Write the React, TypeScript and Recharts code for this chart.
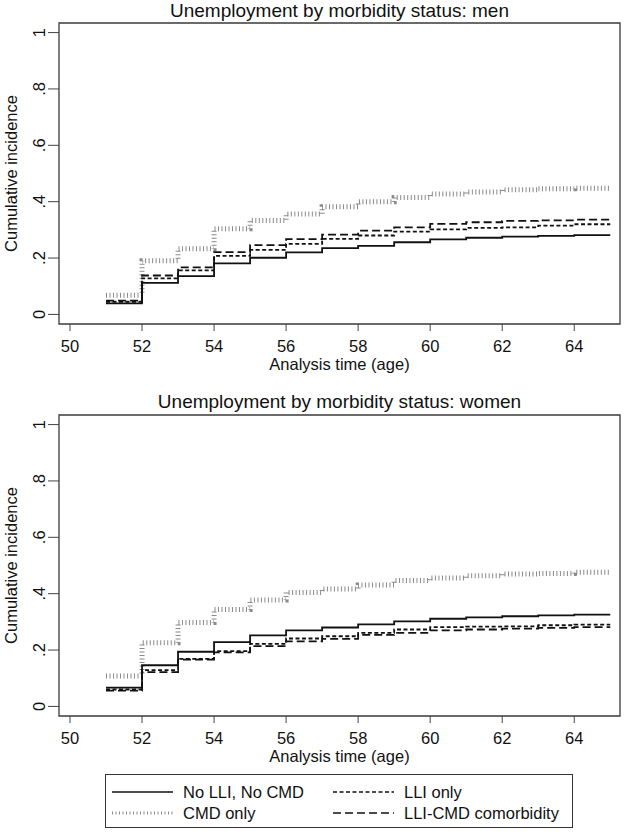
import React from 'react';
import { LineChart, Line, XAxis, YAxis, ReferenceArea } from 'recharts';

// Ages at which the step functions change (last one = end of follow-up)
const ages = [51, 52, 53, 54, 55, 56, 57, 58, 59, 60, 61, 62, 63, 64, 65];

// Men
const menNone = [0.039, 0.112, 0.136, 0.181, 0.201, 0.220, 0.235, 0.243, 0.256, 0.266, 0.272, 0.276, 0.279, 0.281, 0.281];
const menLLI = [0.045, 0.128, 0.156, 0.208, 0.229, 0.250, 0.268, 0.280, 0.294, 0.302, 0.307, 0.309, 0.315, 0.320, 0.320];
const menCMD = [0.068, 0.190, 0.233, 0.304, 0.333, 0.356, 0.382, 0.400, 0.415, 0.427, 0.434, 0.442, 0.446, 0.448, 0.448];
const menBoth = [0.049, 0.138, 0.167, 0.221, 0.246, 0.267, 0.283, 0.297, 0.309, 0.321, 0.327, 0.332, 0.334, 0.336, 0.336];

// Women
const womenNone = [0.067, 0.146, 0.194, 0.228, 0.252, 0.270, 0.280, 0.291, 0.302, 0.311, 0.316, 0.320, 0.323, 0.326, 0.326];
const womenLLI = [0.060, 0.129, 0.169, 0.196, 0.222, 0.241, 0.249, 0.261, 0.273, 0.281, 0.283, 0.284, 0.288, 0.290, 0.290];
const womenCMD = [0.108, 0.226, 0.298, 0.344, 0.378, 0.404, 0.417, 0.431, 0.447, 0.456, 0.464, 0.470, 0.472, 0.476, 0.476];
const womenBoth = [0.056, 0.122, 0.166, 0.192, 0.214, 0.231, 0.240, 0.254, 0.261, 0.270, 0.273, 0.276, 0.279, 0.281, 0.281];

const xTicks = [50, 52, 54, 56, 58, 60, 62, 64];
const yTicks = [0, 0.2, 0.4, 0.6, 0.8, 1];
const yTickLabels = ['0', '.2', '.4', '.6', '.8', '1'];

const seriesNames = ['No LLI, No CMD', 'LLI only', 'CMD only', 'LLI-CMD comorbidity'];

const X_DOMAIN: [number, number] = [49.695, 65.27];
const Y_DOMAIN: [number, number] = [-0.034, 1.034];

const FONT = '"Liberation Sans", Arial, Helvetica, sans-serif';

const STYLES = {
  none: { stroke: '#111', strokeWidth: 1.8, dash: undefined as string | undefined },
  lli: { stroke: '#111', strokeWidth: 1.8, dash: '4 2.5' },
  cmd: { stroke: '#8a8a8a', strokeWidth: 5, dash: '1 2.5' },
  both: { stroke: '#111', strokeWidth: 1.8, dash: '8 4' },
};

function buildRows(a: number[], b: number[], c: number[], d: number[]) {
  return ages.map((age, i) => ({ age, none: a[i], lli: b[i], cmd: c[i], both: d[i] }));
}

const menRows = buildRows(menNone, menLLI, menCMD, menBoth);
const womenRows = buildRows(womenNone, womenLLI, womenCMD, womenBoth);

const YTick = (props: any) => {
  const { x, y, payload } = props;
  const idx = yTicks.indexOf(payload.value);
  const label = idx >= 0 ? yTickLabels[idx] : String(payload.value);
  return (
    <text
      x={x}
      y={y}
      transform={`rotate(-90, ${x}, ${y})`}
      textAnchor="middle"
      fontSize={16.5}
      fontFamily={FONT}
      fill="#111"
    >
      {label}
    </text>
  );
};

function Panel({ rows }: { rows: any[] }) {
  return (
    <LineChart
      width={625}
      height={375}
      data={rows}
      margin={{ top: 23, right: 5, bottom: 0, left: 0 }}
    >
      <XAxis
        dataKey="age"
        type="number"
        domain={X_DOMAIN}
        allowDataOverflow
        ticks={xTicks}
        interval={0}
        height={51}
        axisLine={false}
        tickLine={{ stroke: '#444', strokeWidth: 1 }}
        tickSize={7}
        tickMargin={9}
        tick={{ fontSize: 16.5, fontFamily: FONT, fill: '#111' }}
        label={{
          value: 'Analysis time (age)',
          position: 'insideBottom',
          offset: 5,
          style: { fontSize: 16.5, fontFamily: FONT, fill: '#111' },
        }}
      />
      <YAxis
        type="number"
        domain={Y_DOMAIN}
        allowDataOverflow
        ticks={yTicks}
        interval={0}
        width={59}
        axisLine={false}
        tickLine={{ stroke: '#444', strokeWidth: 1 }}
        tickSize={11}
        tickMargin={3}
        tick={<YTick />}
        label={{
          value: 'Cumulative incidence',
          angle: -90,
          position: 'insideLeft',
          offset: 11,
          style: { fontSize: 16.5, fontFamily: FONT, fill: '#111', textAnchor: 'middle' },
        }}
      />
      <ReferenceArea
        x1={X_DOMAIN[0]}
        x2={X_DOMAIN[1]}
        y1={Y_DOMAIN[0]}
        y2={Y_DOMAIN[1]}
        fill="none"
        stroke="#3a3a3a"
        strokeWidth={1.3}
        ifOverflow="visible"
      />
      <Line type="stepAfter" dataKey="cmd" name={seriesNames[2]} stroke={STYLES.cmd.stroke} strokeWidth={STYLES.cmd.strokeWidth} strokeDasharray={STYLES.cmd.dash} dot={false} isAnimationActive={false} />
      <Line type="stepAfter" dataKey="both" name={seriesNames[3]} stroke={STYLES.both.stroke} strokeWidth={STYLES.both.strokeWidth} strokeDasharray={STYLES.both.dash} dot={false} isAnimationActive={false} />
      <Line type="stepAfter" dataKey="lli" name={seriesNames[1]} stroke={STYLES.lli.stroke} strokeWidth={STYLES.lli.strokeWidth} strokeDasharray={STYLES.lli.dash} dot={false} isAnimationActive={false} />
      <Line type="stepAfter" dataKey="none" name={seriesNames[0]} stroke={STYLES.none.stroke} strokeWidth={STYLES.none.strokeWidth} dot={false} isAnimationActive={false} />
    </LineChart>
  );
}

function Title({ text, top }: { text: string; top: number }) {
  return (
    <div
      style={{
        position: 'absolute',
        left: 59,
        width: 561,
        top,
        textAlign: 'center',
        fontFamily: FONT,
        fontSize: 19,
        lineHeight: '22px',
        color: '#111',
        whiteSpace: 'nowrap',
      }}
    >
      {text}
    </div>
  );
}

function LegendItem({ left, top, style, label, sampleWidth }: any) {
  return (
    <div style={{ position: 'absolute', left, top, height: 20, display: 'flex', alignItems: 'center' }}>
      <svg width={sampleWidth} height={20} style={{ display: 'block' }}>
        <line
          x1={0}
          y1={10}
          x2={sampleWidth}
          y2={10}
          stroke={style.stroke}
          strokeWidth={style === STYLES.cmd ? 3 : 1.6}
          strokeDasharray={style.dash}
        />
      </svg>
      <span style={{ marginLeft: 10, fontFamily: FONT, fontSize: 16.5, color: '#111', whiteSpace: 'nowrap' }}>{label}</span>
    </div>
  );
}

export default function App() {
  return (
    <div style={{ position: 'absolute', left: 0, top: 0, width: 625, height: 832, background: '#fff' }}>
      <Title text="Unemployment by morbidity status: men" top={0} />
      <Title text="Unemployment by morbidity status: women" top={391} />
      <div style={{ position: 'absolute', left: 0, top: 0 }}>
        <Panel rows={menRows} />
      </div>
      <div style={{ position: 'absolute', left: 0, top: 392 }}>
        <Panel rows={womenRows} />
      </div>
      <div
        style={{
          position: 'absolute',
          left: 105,
          top: 774,
          width: 468,
          height: 54,
          border: '1px solid #333',
          boxSizing: 'border-box',
          background: '#fff',
        }}
      >
        <LegendItem left={6} top={7} style={STYLES.none} label={seriesNames[0]} sampleWidth={61} />
        <LegendItem left={227} top={7} style={STYLES.lli} label={seriesNames[1]} sampleWidth={61} />
        <LegendItem left={6} top={28} style={STYLES.cmd} label={seriesNames[2]} sampleWidth={61} />
        <LegendItem left={227} top={28} style={STYLES.both} label={seriesNames[3]} sampleWidth={61} />
      </div>
    </div>
  );
}
